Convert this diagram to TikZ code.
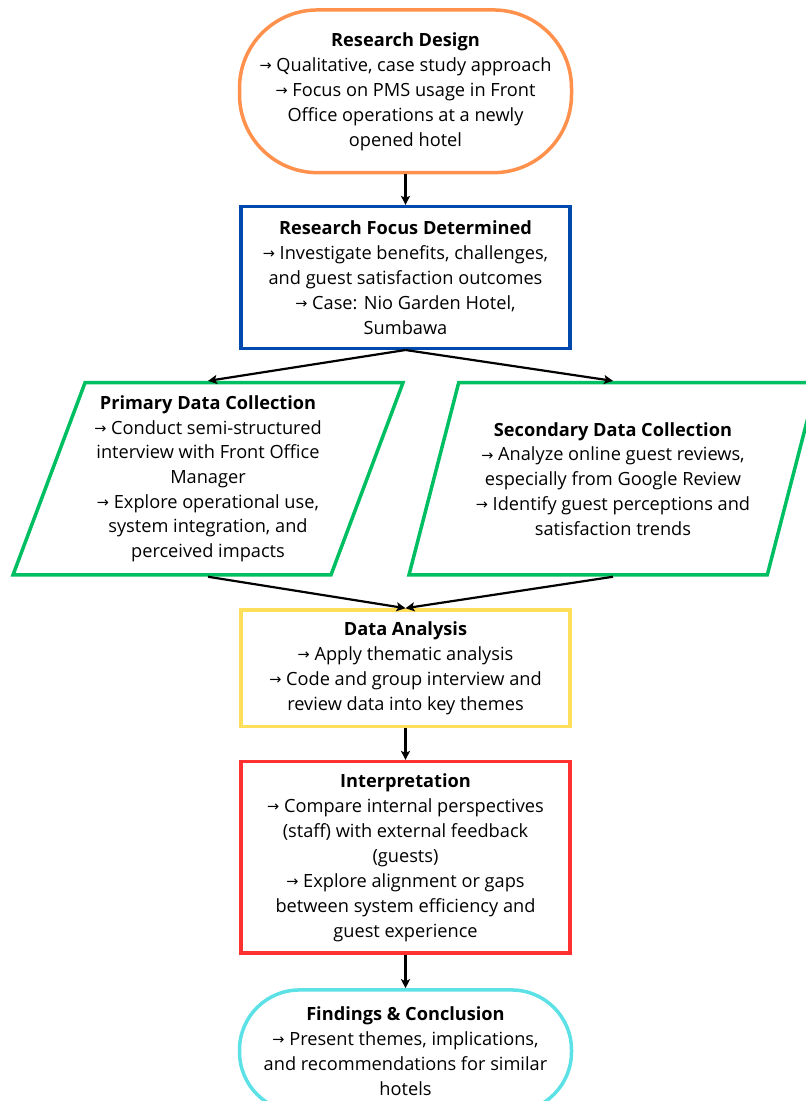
\documentclass[tikz,border=0pt]{standalone}
\usepackage{fontspec}
\setmainfont{Open Sans}
\newfontfamily\symfont{DejaVu Sans}
\usetikzlibrary{positioning,arrows.meta,shapes.geometric}

\definecolor{designorange}{HTML}{FF914D}
\definecolor{focusblue}{HTML}{004AAD}
\definecolor{collectgreen}{HTML}{00BF63}
\definecolor{analysisyellow}{HTML}{FFDE59}
\definecolor{interpred}{HTML}{FF3131}
\definecolor{findingscyan}{HTML}{5CE1E6}

\newcommand{\arrowmark}{\raisebox{0.8pt}{\symfont\fontsize{14.5}{14.5}\selectfont →}\ }

\begin{document}
\begin{tikzpicture}[
      x=1pt, y=1pt,
      stage/.style={rectangle, draw, line width=3.5pt, align=center, minimum width=329pt,
        font=\fontsize{18.2}{25}\selectfont},
      roundstage/.style={stage, minimum width=332pt},
      slantstage/.style={trapezium, draw=collectgreen, line width=3.5pt, align=center,
        trapezium left angle=67.4, trapezium right angle=112.6, trapezium stretches body,
        minimum height=192.3pt, font=\fontsize{18.2}{24.7}\selectfont},
      arrow/.style={-{Stealth[length=9pt,width=9pt,inset=2pt]}, line width=2.2pt}
  ]
  \clip (0,0) rectangle (806,-1101);
  % Nodes
  \node[roundstage, draw=designorange, rounded corners=78pt, minimum height=162.7pt] (design) at (405.5,-91.3)
    {\textbf{Research Design}\\ \arrowmark Qualitative, case study approach\\ \arrowmark Focus on PMS usage in Front\\ Office operations at a newly\\ opened hotel};
  \node[stage, draw=focusblue, minimum height=141.6pt, below=30.5pt of design] (focus)
    {\textbf{Research Focus Determined}\\ \arrowmark Investigate benefits, challenges,\\ and guest satisfaction outcomes\\ \arrowmark Case: Nio Garden Hotel,\\ Sumbawa};
  \node[slantstage, minimum width=390pt, below=30.9pt of focus, xshift=-197.5pt] (prim)
    {\textbf{Primary Data Collection}\\ \arrowmark Conduct semi-structured\\ interview with Front Office\\ Manager\\ \arrowmark Explore operational use,\\ system integration, and\\ perceived impacts};
  \node[slantstage, minimum width=408pt, below=30.9pt of focus, xshift=207.5pt] (second)
    {\textbf{Secondary Data Collection}\\ \arrowmark Analyze online guest reviews,\\ especially from Google Review\\ \arrowmark Identify guest perceptions and\\ satisfaction trends};
  \node[stage, draw=analysisyellow, minimum height=116.7pt, below=258.2pt of focus] (analysis)
    {\textbf{Data Analysis}\\ \arrowmark Apply thematic analysis\\ \arrowmark Code and group interview and\\ review data into key themes};
  \node[stage, draw=interpred, minimum height=191.3pt, below=31.5pt of analysis] (interp)
    {\textbf{Interpretation}\\ \arrowmark Compare internal perspectives\\ (staff) with external feedback\\ (guests)\\ \arrowmark Explore alignment or gaps\\ between system efficiency and\\ guest experience};
  \node[roundstage, draw=findingscyan, rounded corners=60pt, minimum height=122pt, below=33.5pt of interp] (findings)
    {\textbf{Findings \& Conclusion}\\ \arrowmark Present themes, implications,\\ and recommendations for similar\\ hotels};
  % Arrows
  \draw[arrow] (design) -- (focus);
  \draw[arrow] (focus.south) -- (prim.north);
  \draw[arrow] (focus.south) -- (second.north);
  \draw[arrow] (prim.south) -- (analysis.north);
  \draw[arrow] (second.south) -- (analysis.north);
  \draw[arrow] (analysis) -- (interp);
  \draw[arrow] (interp) -- (findings);
\end{tikzpicture}
\end{document}
